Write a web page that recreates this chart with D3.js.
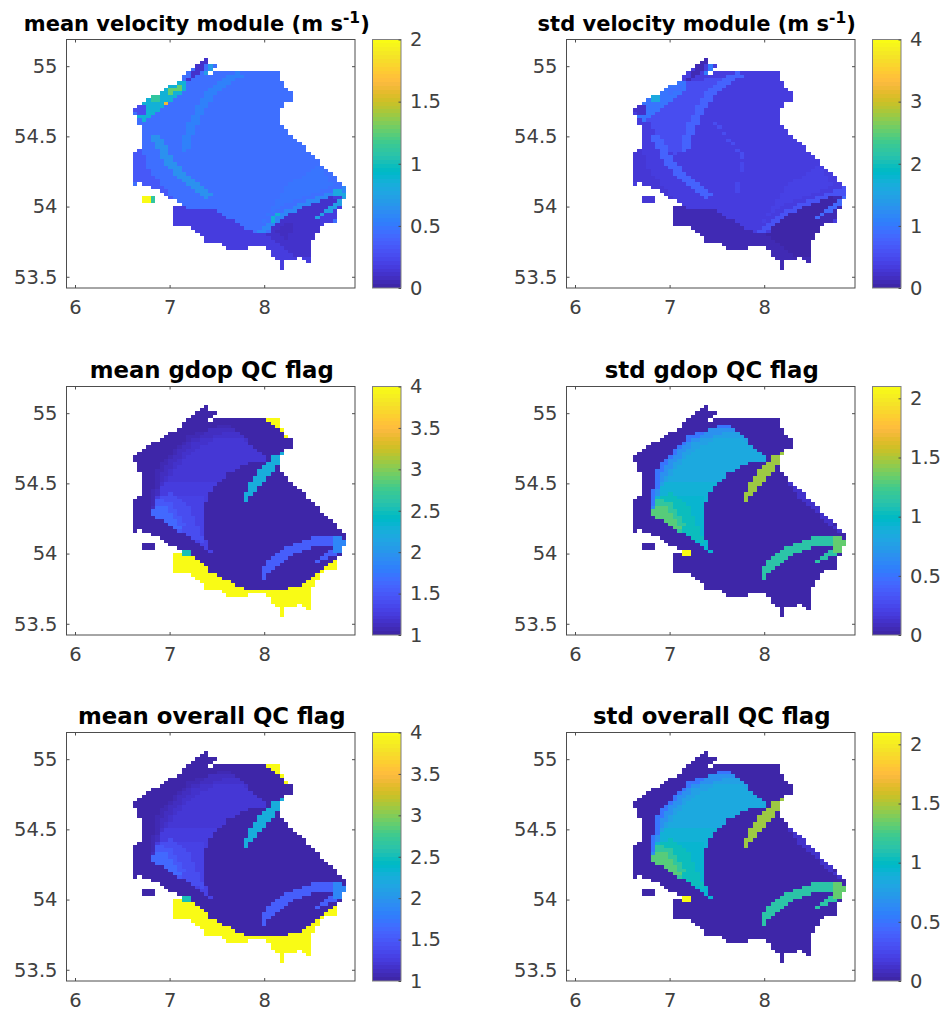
<!DOCTYPE html>
<html><head><meta charset="utf-8">
<script src="https://cdn.jsdelivr.net/npm/d3@7"></script>
<style>html,body{margin:0;background:#fff}svg{display:block}text{font-family:"DejaVu Sans",sans-serif}</style>
</head><body><div id="chart"></div>
<script>
const parula=[[.2422,.1504,.6603],[.2504,.1650,.7076],[.2578,.1818,.7511],[.2647,.1978,.7952],[.2706,.2147,.8364],[.2751,.2342,.8710],[.2783,.2559,.8991],[.2803,.2782,.9221],[.2813,.3006,.9414],[.2810,.3228,.9579],[.2795,.3447,.9717],[.2760,.3667,.9829],[.2699,.3892,.9906],[.2602,.4123,.9952],[.2440,.4358,.9988],[.2206,.4603,.9973],[.1963,.4847,.9892],[.1834,.5074,.9798],[.1786,.5289,.9682],[.1764,.5499,.9520],[.1687,.5703,.9359],[.1540,.5902,.9218],[.1460,.6091,.9079],[.1380,.6276,.8973],[.1248,.6459,.8883],[.1113,.6635,.8763],[.0952,.6798,.8598],[.0689,.6948,.8394],[.0297,.7082,.8163],[.0036,.7203,.7917],[.0067,.7312,.7660],[.0433,.7411,.7394],[.0964,.7500,.7120],[.1408,.7584,.6842],[.1717,.7670,.6554],[.1938,.7758,.6251],[.2161,.7843,.5923],[.2470,.7918,.5567],[.2906,.7973,.5188],[.3406,.8008,.4789],[.3909,.8029,.4354],[.4456,.8024,.3909],[.5044,.7993,.3480],[.5616,.7942,.3045],[.6174,.7876,.2612],[.6720,.7793,.2227],[.7242,.7698,.1910],[.7738,.7598,.1646],[.8203,.7498,.1535],[.8634,.7406,.1596],[.9035,.7330,.1774],[.9393,.7288,.2100],[.9728,.7298,.2394],[.9956,.7434,.2371],[.9970,.7659,.2199],[.9952,.7893,.2028],[.9892,.8136,.1885],[.9786,.8386,.1766],[.9676,.8639,.1643],[.9610,.8890,.1537],[.9597,.9135,.1423],[.9628,.9373,.1265],[.9691,.9606,.1064],[.9769,.9839,.0805]];

// regions, as [lon, lat]
const coverage=[[7.37,55.05],[7.43,55.05],[7.43,55.02],[7.49,55.01],[7.48,54.99],[7.38,54.935],[7.40,54.925],[7.48,54.957],[7.55,54.972],[8.165,54.964],[8.18,54.905],[8.235,54.834],[8.30,54.81],[8.30,54.763],[8.235,54.739],[8.147,54.656],[8.14,54.597],[8.235,54.549],[8.376,54.454],[8.517,54.371],[8.605,54.30],[8.71,54.24],[8.816,54.169],[8.886,54.098],[8.851,54.05],[8.791,53.98],[8.762,53.887],[8.62,53.887],[8.57,53.813],[8.482,53.718],[8.51,53.576],[8.376,53.635],[8.235,53.611],[8.193,53.552],[8.13,53.623],[8.052,53.659],[8.042,53.718],[7.707,53.694],[7.602,53.699],[7.566,53.737],[7.426,53.73],[7.32,53.789],[7.197,53.849],[7.056,53.856],[7.056,53.996],[7.144,54.003],[7.056,54.05],[6.933,54.086],[6.845,54.134],[6.722,54.143],[6.634,54.16],[6.588,54.183],[6.616,54.371],[6.686,54.418],[6.715,54.573],[6.658,54.573],[6.616,54.703],[6.722,54.751],[6.915,54.822],[7.109,54.893],[7.162,54.941],[7.32,55.024]];
const island=[[6.72,54.075],[6.84,54.085],[6.84,54.025],[6.72,54.03]];
const hole=[[6.67,54.18],[6.71,54.18],[6.71,54.155],[6.67,54.155]];

const crescentN=[[7.778,54.35],[7.802,54.428],[7.866,54.516],[7.954,54.599],[8.077,54.682],[8.218,54.746],[8.270,54.746],[8.2,54.67],[8.112,54.599],[7.989,54.504],[7.901,54.433],[7.813,54.374]];
const crescentS=[[7.954,53.797],[7.954,53.851],[7.989,53.899],[8.077,53.97],[8.200,54.034],[8.341,54.082],[8.517,54.113],[8.816,54.124],[8.886,54.089],[8.834,54.053],[8.816,53.994],[8.728,53.987],[8.517,53.923],[8.534,53.954],[8.693,54.011],[8.728,54.065],[8.517,54.053],[8.341,54.006],[8.200,53.939],[8.077,53.868],[7.989,53.815]];
const eastBlob=[[8.746,54.124],[8.816,54.124],[8.886,54.089],[8.834,54.053],[8.816,53.994],[8.746,53.994]];
const fanOuter=[[6.774,54.338],[6.827,54.469],[6.845,54.599],[7.214,54.849],[7.619,54.920],[8.042,54.666],[7.813,54.635],[7.602,54.564],[7.443,54.445],[7.362,54.314],[7.366,54.124],[7.454,54.001],[7.144,54.148],[6.792,54.291]];
const fanEdge=[[6.81,54.314],[6.87,54.469],[6.94,54.618],[7.13,54.766],[7.43,54.884],[7.67,54.903],[8.042,54.666],[7.813,54.635],[7.602,54.564],[7.443,54.445],[7.362,54.314],[7.366,54.124],[7.454,54.001],[7.144,54.148]];
const fanMain=[[6.845,54.291],[6.898,54.481],[7.038,54.635],[7.248,54.789],[7.619,54.872],[7.707,54.872],[8.042,54.666],[7.813,54.635],[7.602,54.564],[7.443,54.445],[7.362,54.314],[7.366,54.124],[7.454,54.001],[7.144,54.148]];
const fanUpper=[[6.845,54.286],[6.89,54.385],[6.97,54.528],[7.18,54.694],[7.46,54.813],[7.78,54.813],[8.042,54.666],[7.813,54.635],[7.602,54.564],[7.443,54.445],[7.362,54.314],[7.366,54.124],[7.454,54.001],[7.144,54.148]];
const fanCentre=[[6.83,54.286],[6.87,54.42],[6.94,54.5],[7.5,54.5],[7.443,54.445],[7.362,54.314],[7.366,54.124],[7.454,54.001],[7.144,54.148]];
const fanLower=[[6.827,54.286],[6.88,54.362],[7.003,54.409],[7.362,54.409],[7.366,54.124],[7.454,54.001],[7.144,54.148]];
const fanMid=[[6.81,54.286],[6.88,54.409],[7.02,54.433],[7.197,54.338],[7.39,54.053],[7.144,54.148]];
const fanWarm=[[6.80,54.29],[6.86,54.38],[7.01,54.37],[7.16,54.2],[7.1,54.15]];
const fanHot=[[6.792,54.291],[6.862,54.35],[6.986,54.326],[7.109,54.184],[7.02,54.184]];
const yellowSouth=[[7.038,53.994],[7.207,53.994],[7.267,53.970],[7.426,53.875],[7.584,53.811],[7.830,53.745],[8.200,53.745],[8.411,53.780],[8.587,53.875],[8.798,53.982],[8.869,53.911],[8.587,53.507],[8.024,53.507],[7.038,53.65]];
const yellowNE=[[8.017,54.962],[8.165,54.979],[8.235,54.884],[8.323,54.813],[8.270,54.808],[8.130,54.896]];
const dotSW=[[7.15,54.03],[7.215,54.03],[7.215,53.99],[7.15,53.99]];
const stripNE=[[8.27,54.504],[8.41,54.457],[8.816,54.148],[8.693,54.208],[8.376,54.386]];

const south=[[7.038,54.003],[7.497,53.967],[7.672,53.896],[7.918,53.801],[8.024,53.808],[8.200,53.92],[8.447,54.003],[8.728,54.07],[8.904,54.093],[8.816,53.955],[8.587,53.766],[8.552,53.528],[8.024,53.528],[7.038,53.67]];
const southEast=[[8.024,53.808],[8.200,53.92],[8.447,54.003],[8.728,54.07],[8.797,54.027],[8.587,53.908],[8.517,53.671],[8.376,53.623],[8.162,53.718]];
const southCore=[[8.094,53.825],[8.235,53.896],[8.341,53.861],[8.235,53.766]];
const edgeArc=[[7.918,53.801],[8.042,53.825],[8.2,53.92],[8.447,54.003],[8.728,54.07],[8.886,54.093],[8.851,54.141],[8.728,54.11],[8.447,54.039],[8.162,53.956],[8.024,53.865],[7.918,53.825]];
const edgeHotA=[[8.09,53.93],[8.17,53.97],[8.17,53.94],[8.09,53.89]];
const edgeHotB=[[8.73,54.12],[8.89,54.105],[8.88,54.08],[8.73,54.08]];
const streak=[[8.517,53.927],[8.693,53.991],[8.851,54.07],[8.862,54.046],[8.728,53.974],[8.552,53.915]];
const arcN=[[7.10,54.383],[7.17,54.56],[7.315,54.755],[7.505,54.895],[7.742,54.965],[7.77,54.925],[7.56,54.845],[7.395,54.72],[7.26,54.54],[7.185,54.375]];
const arcSW=[[6.80,54.50],[6.945,54.31],[7.08,54.20],[7.26,54.105],[7.426,54.05],[7.443,54.095],[7.31,54.16],[7.14,54.255],[7.025,54.355],[6.89,54.51]];
const bandNW=[[6.651,54.62],[6.722,54.739],[6.915,54.822],[7.109,54.893],[7.21,54.87],[7.0,54.73],[6.76,54.61]];
const bandPatchA=[[6.80,54.79],[6.87,54.81],[6.87,54.76],[6.80,54.76]];
const bandPatchB=[[6.97,54.85],[7.13,54.86],[7.13,54.815],[6.97,54.8]];
const bandSpot=[[6.96,54.76],[7.01,54.76],[7.01,54.72],[6.96,54.72]];
const blobNW=[[6.616,54.703],[6.722,54.739],[6.774,54.68],[6.668,54.64]];
const tipN=[[7.162,54.893],[7.32,55.024],[7.39,55.06],[7.43,55.04],[7.23,54.893]];
const underTip=[[7.46,55.02],[7.49,55.01],[7.37,54.93],[7.32,54.93]];
const west=[[6.588,54.181],[6.616,54.371],[6.704,54.418],[6.757,54.288],[6.915,54.146],[7.056,54.05],[6.686,54.146]];
const eastSlope=[[7.954,53.86],[8.162,54.003],[8.447,54.074],[8.728,54.145],[8.587,54.30],[8.235,54.146]];
const upperWest=[[6.739,54.625],[6.986,54.767],[7.179,54.886],[7.67,54.93],[7.383,54.74],[7.119,54.383],[7.03,54.36],[6.83,54.55]];
const lineA=[[7.46,54.61],[7.48,54.61],[7.80,54.35],[7.78,54.33]];
const lineB=[[7.78,54.36],[7.80,54.36],[7.70,54.04],[7.67,54.04]];
const islandWest=[[6.72,54.08],[6.78,54.08],[6.78,54.03],[6.72,54.03]];

const velMeanLayers=[[coverage,.45],[island,.2],[west,.34],[eastSlope,.49],[south,.18],[southEast,.12],[southCore,.07],[edgeArc,.58],[edgeHotA,.85],[edgeHotB,.8],[streak,.72],[arcN,.56],[arcSW,.64],[bandNW,.85],[bandPatchA,1.1],[bandPatchB,1.25],[bandSpot,1.6],[blobNW,.25],[tipN,.12],[underTip,.7],[island,1.1],[islandWest,2]];
const velStdLayers=[[coverage,.36],[island,.25],[west,.25],[upperWest,.5],[eastSlope,.42],[lineA,.52],[lineB,.48],[south,.08],[southEast,.06],[edgeArc,.6],[streak,.85],[arcN,.8],[arcSW,.8],[bandNW,.95],[bandPatchA,1.6],[bandPatchB,.9],[blobNW,.2],[tipN,.12],[underTip,1.05]];
const qcMeanLayers=[[coverage,1],[island,1],[yellowSouth,4],[yellowNE,4],[dotSW,2.5],[fanOuter,1.05],[fanEdge,1.11],[fanMain,1.16],[fanUpper,1.2],[fanCentre,1.24],[fanLower,1.29],[fanMid,1.38],[fanWarm,1.5],[fanHot,1.62],[crescentN,2.25],[crescentS,1.55],[eastBlob,1.85]];
const qcStdLayers=[[coverage,0],[island,0],[stripNE,.1],[dotSW,2.1],[fanOuter,.5],[fanEdge,.66],[fanMain,.78],[fanUpper,.84],[fanCentre,.89],[fanLower,.94],[fanMid,1.02],[fanWarm,1.15],[fanHot,1.28],[crescentN,1.47],[crescentS,1.12],[eastBlob,1.32]];

const panels=[
 {title:"mean velocity module (m s",sup:"-1",end:")",row:0,col:0,domain:[0,2],ticks:[0,.5,1,1.5,2],layers:velMeanLayers},
 {title:"std velocity module (m s",sup:"-1",end:")",row:0,col:1,domain:[0,4],ticks:[0,1,2,3,4],layers:velStdLayers},
 {title:"mean gdop QC flag",row:1,col:0,domain:[1,4],ticks:[1,1.5,2,2.5,3,3.5,4],layers:qcMeanLayers},
 {title:"std gdop QC flag",row:1,col:1,domain:[0,2.1],ticks:[0,.5,1,1.5,2],layers:qcStdLayers},
 {title:"mean overall QC flag",row:2,col:0,domain:[1,4],ticks:[1,1.5,2,2.5,3,3.5,4],layers:qcMeanLayers},
 {title:"std overall QC flag",row:2,col:1,domain:[0,2.1],ticks:[0,.5,1,1.5,2],layers:qcStdLayers}
];
const xTicks=[6,7,8], yTicks=[53.5,54,54.5,55];
const lonRange=[5.91,8.96], latRange=[53.42,55.19];
const lonStep=.047, latStep=.024;
const lons=d3.range(5.93,8.95,lonStep), lats=d3.range(53.44,55.17,latStep);

const W=944,H=1016;
const rowTop=[39.5,386.5,732.5], colLeft=[66.5,566.5];
const axW=288.5, axH=248.5, cbGap=17.5, cbW=28.5;
const axisCol="#4d4d4d", textCol="#404040";
const palette=parula.map(c=>d3.rgb(c[0]*255,c[1]*255,c[2]*255).formatHex());

const svg=d3.select("#chart").append("svg").attr("width",W).attr("height",H).attr("viewBox",`0 0 ${W} ${H}`);
const defs=svg.append("defs");
const fl=defs.append("filter").attr("id","soft").attr("color-interpolation-filters","sRGB")
  .attr("x","-2%").attr("y","-2%").attr("width","104%").attr("height","104%");
fl.append("feGaussianBlur").attr("stdDeviation",.55);

function valueAt(p,layers){
  if(d3.polygonContains(hole,p)) return null;
  if(!d3.polygonContains(coverage,p)&&!d3.polygonContains(island,p)) return null;
  for(let i=layers.length-1;i>=0;i--) if(d3.polygonContains(layers[i][0],p)) return layers[i][1];
  return null;
}

panels.forEach(pn=>{
  const L=colLeft[pn.col],T=rowTop[pn.row];
  const x=d3.scaleLinear().domain(lonRange).range([L,L+axW]);
  const y=d3.scaleLinear().domain(latRange).range([T+axH,T]);
  const color=d3.scaleQuantize().domain(pn.domain).range(palette);
  const g=svg.append("g");
  const cells=[];
  lons.forEach(lo=>lats.forEach(la=>{
    const v=valueAt([lo,la],pn.layers);
    if(v!==null) cells.push({lo,la,v});
  }));
  g.append("g").attr("filter","url(#soft)").attr("shape-rendering","crispEdges")
   .selectAll("rect").data(cells).join("rect")
   .attr("x",d=>x(d.lo-lonStep/2)).attr("y",d=>y(d.la+latStep/2))
   .attr("width",d=>x(d.lo+lonStep/2)-x(d.lo-lonStep/2)).attr("height",d=>y(d.la-latStep/2)-y(d.la+latStep/2))
   .attr("fill",d=>color(d.v));

  // frame + ticks
  g.append("rect").attr("x",L).attr("y",T).attr("width",axW).attr("height",axH).attr("fill","none").attr("stroke",axisCol).attr("stroke-width",1);
  const styleAxis=a=>{a.select(".domain").remove();a.selectAll("line").attr("stroke",axisCol);a.selectAll("text").attr("fill",textCol).style("font-size","19.5px").style("font-family",'"DejaVu Sans",sans-serif');};
  g.append("g").attr("transform",`translate(0,${T+axH})`).call(d3.axisBottom(x).tickValues(xTicks).tickSize(-3).tickPadding(12).tickFormat(d3.format("d"))).call(styleAxis);
  g.append("g").attr("transform",`translate(0,${T})`).call(d3.axisTop(x).tickValues(xTicks).tickSize(-3).tickFormat("")).call(styleAxis);
  g.append("g").attr("transform",`translate(${L},0)`).call(d3.axisLeft(y).tickValues(yTicks).tickSize(-3).tickPadding(9).tickFormat(d=>String(d))).call(styleAxis);
  g.append("g").attr("transform",`translate(${L+axW},0)`).call(d3.axisRight(y).tickValues(yTicks).tickSize(-3).tickFormat("")).call(styleAxis);

  // title
  const t=g.append("text").attr("x",L+axW/2+(pn.sup?-14:1)).attr("y",T-9).attr("text-anchor","middle")
    .attr("font-weight","bold").attr("font-size",pn.sup?21:22.8).attr("fill","#000").text(pn.title);
  if(pn.sup){
    t.append("tspan").attr("dy",-8).attr("font-size",15.5).text(pn.sup);
    t.append("tspan").attr("dy",8).text(pn.end);
  }

  // colourbar
  const cx=L+axW+cbGap;
  const cy=d3.scaleLinear().domain(pn.domain).range([T+axH,T]);
  const lev=palette.map((c,i)=>({c,a:pn.domain[0]+(pn.domain[1]-pn.domain[0])*i/palette.length,b:pn.domain[0]+(pn.domain[1]-pn.domain[0])*(i+1)/palette.length}));
  g.append("g").attr("shape-rendering","crispEdges").selectAll("rect").data(lev).join("rect")
    .attr("x",cx).attr("width",cbW).attr("y",d=>cy(d.b)).attr("height",d=>cy(d.a)-cy(d.b)).attr("fill",d=>d.c);
  g.append("rect").attr("x",cx).attr("y",T).attr("width",cbW).attr("height",axH).attr("fill","none").attr("stroke","#808080").attr("stroke-width",1);
  g.append("g").attr("transform",`translate(${cx+cbW},0)`).call(d3.axisRight(cy).tickValues(pn.ticks).tickSize(-2.5).tickPadding(9).tickFormat(d=>String(d))).call(styleAxis);
});
</script></body></html>
